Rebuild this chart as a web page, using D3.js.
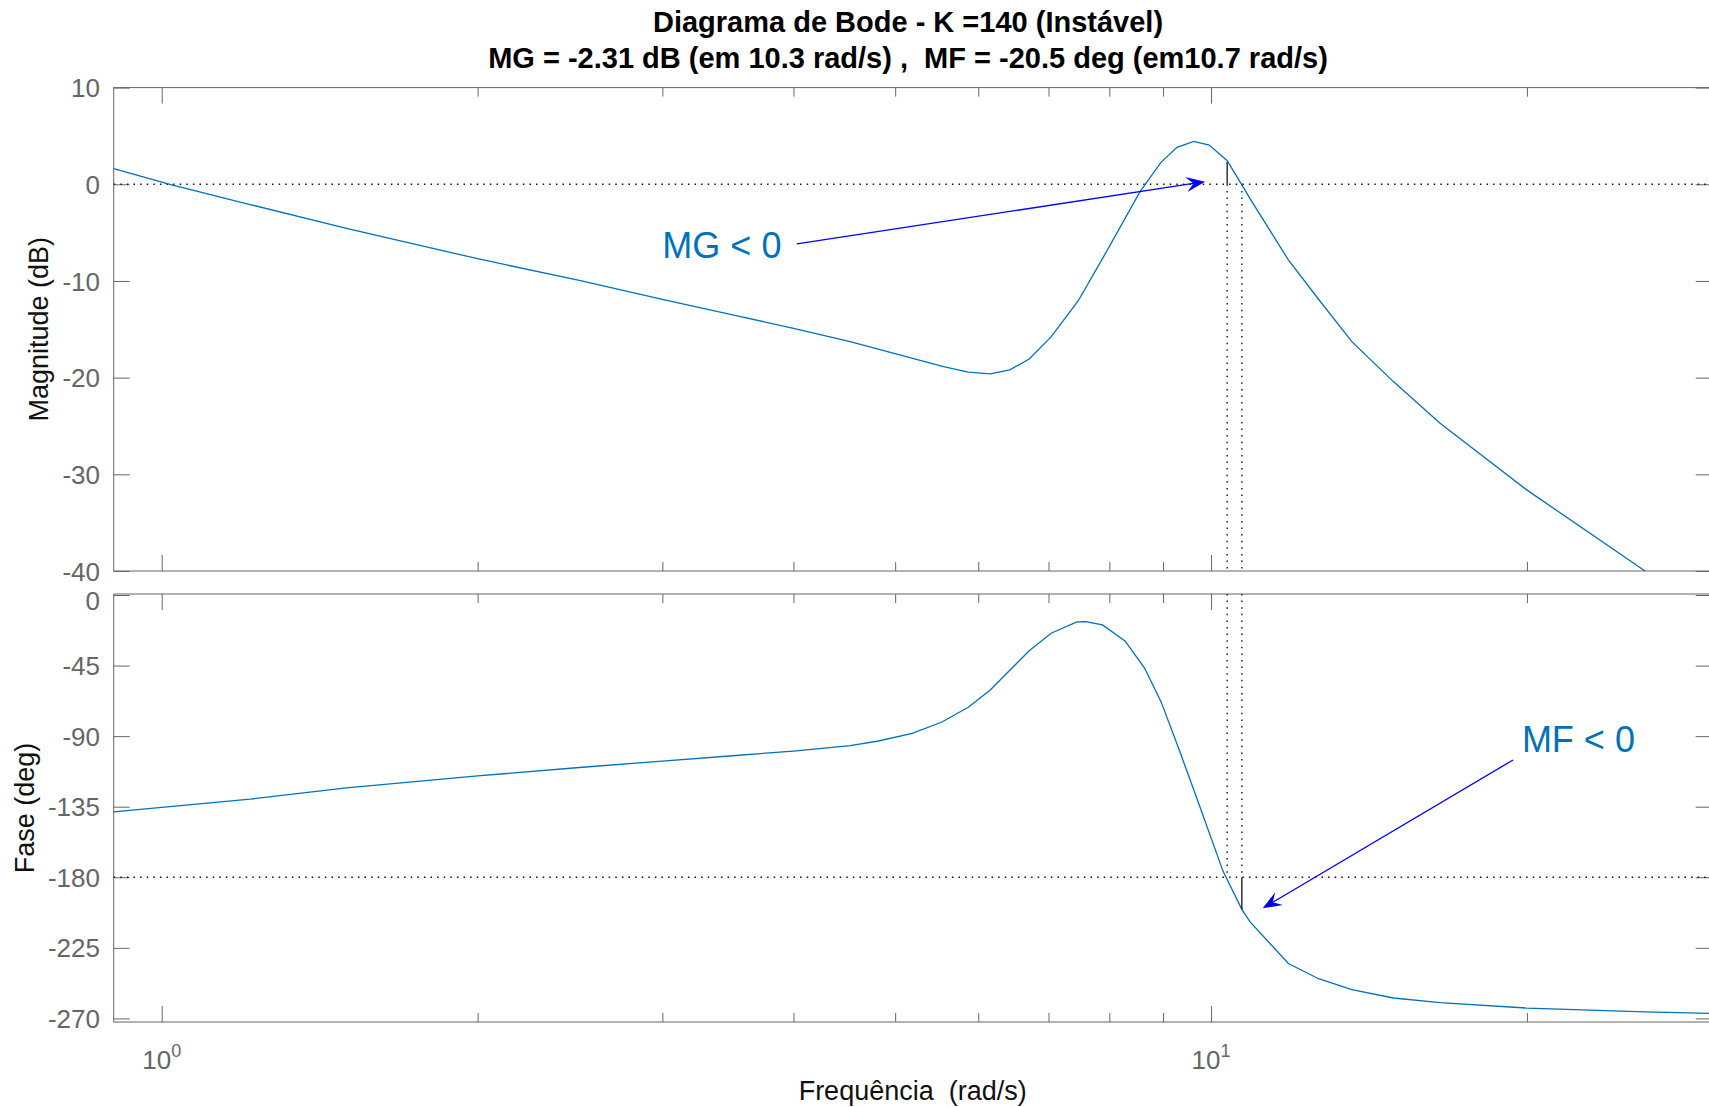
<!DOCTYPE html>
<html>
<head>
<meta charset="utf-8">
<script src="https://cdn.jsdelivr.net/npm/d3@7"></script>
<style>
  body { margin: 0; background: #fff; }
  svg { display: block; font-family: "Liberation Sans", Arial, Helvetica, sans-serif; }
</style>
</head>
<body>
<svg id="chart" width="1709" height="1107"></svg>
<script>
// --- data (rad/s, dB, deg) ---
const magFreq = [0.9, 1.018, 1.214, 1.5, 2, 2.5, 3, 3.5, 4, 4.53,
  5.56, 5.87, 6.16, 6.43, 6.71, 7.04, 7.47, 7.9, 8.56, 8.96,
  9.28, 9.63, 9.96, 10.36, 10.7, 10.89, 11.85, 12.66, 13.62, 14.92,
  16.53, 19.99, 25.92, 30];
const magDb = [1.63, 0, -2.1, -4.55, -7.7, -9.95, -11.9, -13.5, -14.9, -16.28,
  -18.86, -19.44, -19.62, -19.2, -18.07, -15.79, -12.07, -7.49, -0.73, 2.27,
  3.82, 4.44, 4.06, 2.44, -0.07, -1.45, -7.83, -11.89, -16.28, -20.41,
  -24.72, -31.61, -40, -44.7];

const phaseFreq = [0.9, 1.214, 1.5, 2, 2.5, 3, 3.5, 4, 4.53, 4.82,
  5.19, 5.54, 5.87, 6.16, 6.43, 6.71, 7.04, 7.45, 7.59, 7.88,
  8.28, 8.64, 8.96, 9.34, 9.76, 10.27, 10.7, 10.89, 11.85, 12.66,
  13.62, 14.92, 16.53, 19.99, 25.92, 30];
const phaseDeg = [-138.3, -130.2, -123, -115.4, -110, -105.9, -102.5, -99.5, -96.1, -93.1,
  -88.2, -81, -71.6, -60.6, -48, -35.5, -24.4, -17.2, -17, -19.1,
  -29.3, -46.4, -68, -100, -135.2, -176.4, -200.5, -208.3, -235, -244.7,
  -251.7, -257, -260, -263.4, -265.8, -266.8];

const magTicks = [10, 0, -10, -20, -30, -40];
const phaseTicks = [0, -45, -90, -135, -180, -225, -270];
const majorFreqTicks = [1, 10];
const minorFreqTicks = [2, 3, 4, 5, 6, 7, 8, 9, 20];
const freqTickExp = ["0", "1"];

// stability margins: [phase crossover (MG), gain crossover (MF)]
const marginFreq = [10.36, 10.7];
const marginValue = [2.31, -200.5];

// annotations (data coords)
const noteText = ["MG < 0", "MF < 0"];
const noteTextAt = [[3.0, -7.62], [19.78, -99.9]];
const noteTail = [[4.03, -6.17], [19.4, -105.2]];
const noteTip = [[9.87, 0.27], [11.2, -199.8]];

const titleLines = ["Diagrama de Bode - K =140 (Instável)",
  "MG = -2.31 dB (em 10.3 rad/s) ,  MF = -20.5 deg (em10.7 rad/s)"];

// --- layout ---
const plotLeft = 113.7, plotRight = 1711.7;
const mag = { top: 87.6, bottom: 571 };
const ph = { top: 594, bottom: 1022 };
const axisColor = "#666";
const lineColor = "#0072bd";

const svg = d3.select("#chart");

const x = d3.scaleLog().domain([0.9, 30]).range([plotLeft, plotRight]);
const yMag = d3.scaleLinear().domain([-40, 10]).range([mag.bottom, mag.top]);
const yPh = d3.scaleLinear().domain([-272.3, 0.64]).range([ph.bottom, ph.top]);

function frame(box, y, ticks, id) {
  const g = svg.append("g").attr("color", axisColor);

  // y ticks, left (with labels) and right
  const left = g.append("g").attr("transform", `translate(${plotLeft},0)`)
    .call(d3.axisLeft(y).tickValues(ticks).tickSizeInner(-16).tickSizeOuter(0)
      .tickPadding(13.7).tickFormat(d => String(d)));
  left.selectAll("text").attr("font-size", 26).attr("font-family", null).attr("dy", "0.35em");
  g.append("g").attr("transform", `translate(${plotRight},0)`)
    .call(d3.axisRight(y).tickValues(ticks).tickSizeInner(-16).tickSizeOuter(0).tickFormat(""));

  // x ticks, top and bottom
  [[d3.axisTop, box.top], [d3.axisBottom, box.bottom]].forEach(([ax, yy]) => {
    g.append("g").attr("transform", `translate(0,${yy})`)
      .call(ax(x).tickValues(majorFreqTicks).tickSizeInner(-16).tickSizeOuter(0).tickFormat(""));
    g.append("g").attr("transform", `translate(0,${yy})`)
      .call(ax(x).tickValues(minorFreqTicks).tickSizeInner(-9).tickSizeOuter(0).tickFormat(""));
  });
  g.selectAll(".domain").remove();

  g.append("rect")
    .attr("x", plotLeft).attr("y", box.top)
    .attr("width", plotRight - plotLeft).attr("height", box.bottom - box.top)
    .attr("fill", "none").attr("stroke", axisColor).attr("stroke-width", 1);

  svg.append("clipPath").attr("id", id)
    .append("rect").attr("x", plotLeft).attr("y", box.top)
    .attr("width", plotRight - plotLeft).attr("height", box.bottom - box.top);
  return { g: left, plot: svg.append("g").attr("clip-path", `url(#${id})`) };
}

const magFrame = frame(mag, yMag, magTicks, "clipMag");
const phFrame = frame(ph, yPh, phaseTicks, "clipPh");
const magPlot = magFrame.plot, phPlot = phFrame.plot;
// top label of the phase axes sits a little lower, as in the reference
phFrame.g.selectAll(".tick").filter(d => d === 0).select("text").attr("dy", "0.55em");

const dotted = (sel) => sel.attr("stroke", "#111").attr("stroke-width", 1.4).attr("stroke-dasharray", "1.5 5.1");

// reference lines
dotted(magPlot.append("line").attr("x1", plotLeft).attr("x2", plotRight)
  .attr("y1", yMag(0)).attr("y2", yMag(0)));
dotted(phPlot.append("line").attr("x1", plotLeft).attr("x2", plotRight)
  .attr("y1", yPh(-180)).attr("y2", yPh(-180)));
marginFreq.forEach(f => {
  dotted(magPlot.append("line").attr("x1", x(f)).attr("x2", x(f))
    .attr("y1", yMag(0)).attr("y2", mag.bottom));
  dotted(phPlot.append("line").attr("x1", x(f)).attr("x2", x(f))
    .attr("y1", ph.top).attr("y2", yPh(-180)));
});

// curves
const magLine = d3.line().x((d, i) => x(magFreq[i])).y(d => yMag(d));
magPlot.append("path").datum(magDb).attr("d", magLine)
  .attr("fill", "none").attr("stroke", lineColor).attr("stroke-width", 1.3);
const phLine = d3.line().x((d, i) => x(phaseFreq[i])).y(d => yPh(d));
phPlot.append("path").datum(phaseDeg).attr("d", phLine)
  .attr("fill", "none").attr("stroke", lineColor).attr("stroke-width", 1.3);

// margin markers
magPlot.append("line").attr("x1", x(marginFreq[0])).attr("x2", x(marginFreq[0]))
  .attr("y1", yMag(0)).attr("y2", yMag(marginValue[0])).attr("stroke", "#000").attr("stroke-width", 1.2);
phPlot.append("line").attr("x1", x(marginFreq[1])).attr("x2", x(marginFreq[1]))
  .attr("y1", yPh(-180)).attr("y2", yPh(marginValue[1])).attr("stroke", "#000").attr("stroke-width", 1.2);

// x tick labels 10^n under the phase axes
majorFreqTicks.forEach((f, i) => {
  const t = svg.append("text").attr("x", x(f)).attr("y", 1069)
    .attr("text-anchor", "middle").attr("fill", axisColor).attr("font-size", 26);
  t.append("tspan").text("10");
  t.append("tspan").attr("dy", -12).attr("font-size", 18).text(freqTickExp[i]);
});

// axis labels
svg.append("text").attr("transform", `translate(47.5,${(mag.top + mag.bottom) / 2}) rotate(-90)`)
  .attr("text-anchor", "middle").attr("font-size", 27).attr("fill", "#111").text("Magnitude (dB)");
svg.append("text").attr("transform", `translate(33.6,${(ph.top + ph.bottom) / 2}) rotate(-90)`)
  .attr("text-anchor", "middle").attr("font-size", 27).attr("fill", "#111").text("Fase (deg)");
svg.append("text").attr("x", (plotLeft + plotRight) / 2).attr("y", 1100)
  .attr("text-anchor", "middle").attr("font-size", 27).attr("fill", "#111")
  .style("white-space", "pre").text("Frequência  (rad/s)");

// title
titleLines.forEach((s, i) => {
  svg.append("text").attr("x", 908).attr("y", 32 + i * 36)
    .attr("text-anchor", "middle").attr("font-size", 29).attr("font-weight", "bold")
    .attr("fill", "#000").style("white-space", "pre").text(s);
});

// annotations
function arrow(x0, y0, x1, y1) {
  const dx = x1 - x0, dy = y1 - y0, len = Math.hypot(dx, dy);
  const ux = dx / len, uy = dy / len, nx = -uy, ny = ux;
  const L = 19, hw = 7.5, notch = 0.62 * L;
  svg.append("line").attr("x1", x0).attr("y1", y0)
    .attr("x2", x1 - ux * notch).attr("y2", y1 - uy * notch)
    .attr("stroke", "#0000ff").attr("stroke-width", 1.3);
  const pts = [[x1, y1],
    [x1 - ux * L + nx * hw, y1 - uy * L + ny * hw],
    [x1 - ux * notch, y1 - uy * notch],
    [x1 - ux * L - nx * hw, y1 - uy * L - ny * hw]];
  svg.append("path").attr("d", d3.line()(pts) + "Z").attr("fill", "#0000ff");
}
const yOf = [yMag, yPh];
noteText.forEach((s, i) => {
  const yy = yOf[i];
  svg.append("text").attr("x", x(noteTextAt[i][0])).attr("y", yy(noteTextAt[i][1]))
    .attr("font-size", 36).attr("fill", lineColor).text(s);
  arrow(x(noteTail[i][0]), yy(noteTail[i][1]), x(noteTip[i][0]), yy(noteTip[i][1]));
});
</script>
</body>
</html>
